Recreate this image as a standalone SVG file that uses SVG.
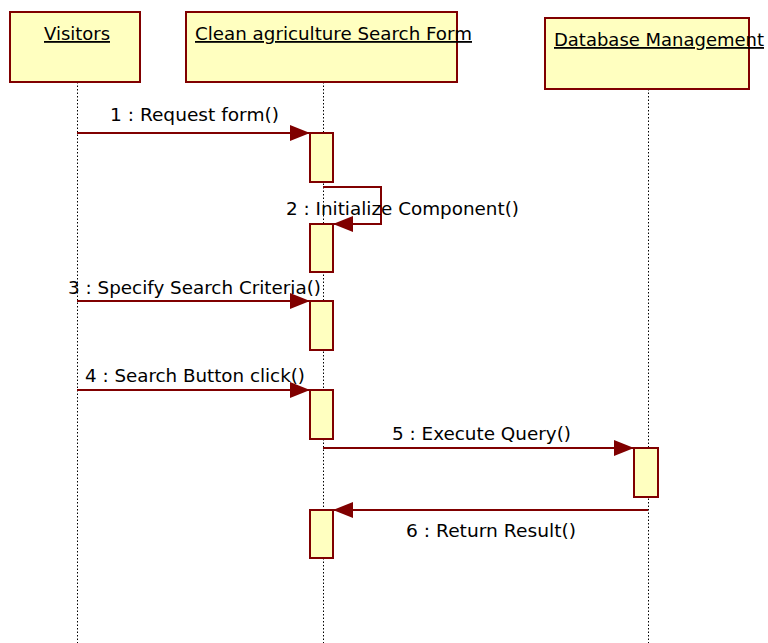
<svg xmlns="http://www.w3.org/2000/svg" width="768" height="643" viewBox="0 0 768 643">
<style>
.obj{fill:#ffffc0;stroke:#800000;stroke-width:2}
.act{fill:#ffffc0;stroke:#800000;stroke-width:2}
.life{stroke:#000;stroke-width:1;stroke-dasharray:1.5,2;fill:none}
.msg{stroke:#800000;stroke-width:2;fill:none}
text{font-family:"DejaVu Sans","Liberation Sans",sans-serif;font-size:18px;fill:#000}
.ul{text-decoration:underline}
</style>
<defs>
<marker id="ah" markerUnits="userSpaceOnUse" markerWidth="22" markerHeight="16" refX="20" refY="8" orient="auto">
<path d="M0,0 L20,8 L0,16 Z" fill="#800000"/>
</marker>
</defs>
<g id="lifelines">
<line class="life" x1="77.5" y1="82" x2="77.5" y2="643"/>
<line class="life" x1="323.5" y1="82" x2="323.5" y2="643"/>
<line class="life" x1="648.5" y1="89" x2="648.5" y2="643"/>
</g>
<g id="visitors">
<rect class="obj" x="10" y="12" width="130" height="70"/>
<text class="ul" x="44" y="40" textLength="66" lengthAdjust="spacingAndGlyphs">Visitors</text>
</g>
<g id="searchform">
<rect class="obj" x="186" y="12" width="271" height="70"/>
<text class="ul" x="195" y="40" textLength="277" lengthAdjust="spacingAndGlyphs">Clean agriculture Search Form</text>
</g>
<g id="database">
<rect class="obj" x="545" y="18" width="204" height="71"/>
<text class="ul" x="554" y="46" textLength="210" lengthAdjust="spacingAndGlyphs">Database Management</text>
</g>
<g id="activations">
<rect class="act" x="310" y="133" width="23" height="49"/>
<rect class="act" x="310" y="224" width="23" height="48"/>
<rect class="act" x="310" y="301" width="23" height="49"/>
<rect class="act" x="310" y="390" width="23" height="49"/>
<rect class="act" x="634" y="448" width="24" height="49"/>
<rect class="act" x="310" y="510" width="23" height="48"/>
</g>
<g id="connectors">
<line class="msg" x1="77" y1="133" x2="310" y2="133" marker-end="url(#ah)"/>
<polyline class="msg" points="323,187 381,187 381,224 333,224" marker-end="url(#ah)"/>
<line class="msg" x1="77" y1="301" x2="310" y2="301" marker-end="url(#ah)"/>
<line class="msg" x1="77" y1="390" x2="310" y2="390" marker-end="url(#ah)"/>
<line class="msg" x1="323" y1="448" x2="634" y2="448" marker-end="url(#ah)"/>
<line class="msg" x1="648" y1="510" x2="333" y2="510" marker-end="url(#ah)"/>
</g>
<g id="labels">
<text x="110" y="121" textLength="169" lengthAdjust="spacingAndGlyphs">1 : Request form()</text>
<text x="286" y="215" textLength="233" lengthAdjust="spacingAndGlyphs">2 : Initialize Component()</text>
<text x="68" y="294" textLength="253" lengthAdjust="spacingAndGlyphs">3 : Specify Search Criteria()</text>
<text x="85" y="382" textLength="220" lengthAdjust="spacingAndGlyphs">4 : Search Button click()</text>
<text x="392" y="440" textLength="179" lengthAdjust="spacingAndGlyphs">5 : Execute Query()</text>
<text x="406" y="537" textLength="170" lengthAdjust="spacingAndGlyphs">6 : Return Result()</text>
</g>
</svg>
